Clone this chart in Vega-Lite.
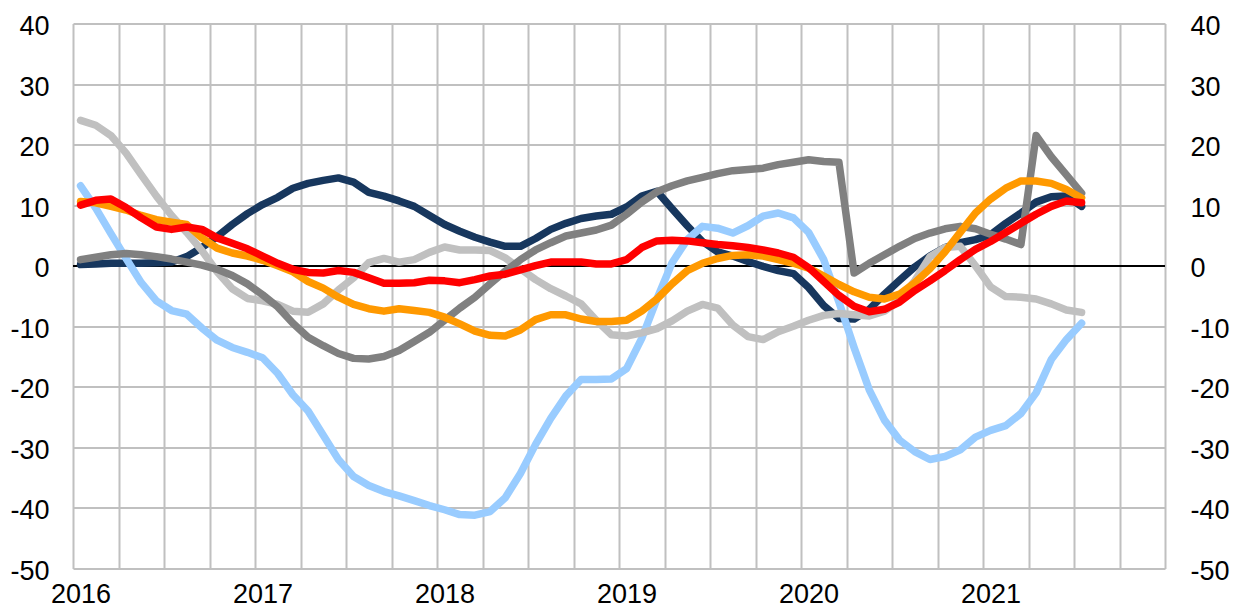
{
  "$schema": "https://vega.github.io/schema/vega-lite/v6.json",
  "width": 1092,
  "height": 545,
  "autosize": {"type": "none"},
  "padding": {"left": 73, "top": 23.5, "right": 74, "bottom": 39.5},
  "background": "white",
  "config": {
    "view": {"stroke": null},
    "font": "Liberation Sans",
    "axis": {"labelFont": "Liberation Sans", "labelFontSize": 27, "labelColor": "#000000", "title": null, "ticks": false, "tickSize": 0, "domain": false, "labelOverlap": false, "labelFlush": false, "labelBound": false}
  },
  "data": {"values": [
    {"series":"Series 1","month":0,"value":0.2},{"series":"Series 1","month":1,"value":0.3},{"series":"Series 1","month":2,"value":0.4},{"series":"Series 1","month":3,"value":0.4},{"series":"Series 1","month":4,"value":0.4},{"series":"Series 1","month":5,"value":0.5},{"series":"Series 1","month":6,"value":0.6},{"series":"Series 1","month":7,"value":1.5},{"series":"Series 1","month":8,"value":3.0},{"series":"Series 1","month":9,"value":4.8},
    {"series":"Series 1","month":10,"value":6.8},{"series":"Series 1","month":11,"value":8.6},{"series":"Series 1","month":12,"value":10.1},{"series":"Series 1","month":13,"value":11.3},{"series":"Series 1","month":14,"value":12.8},{"series":"Series 1","month":15,"value":13.6},{"series":"Series 1","month":16,"value":14.1},{"series":"Series 1","month":17,"value":14.5},{"series":"Series 1","month":18,"value":13.8},{"series":"Series 1","month":19,"value":12.1},
    {"series":"Series 1","month":20,"value":11.5},{"series":"Series 1","month":21,"value":10.7},{"series":"Series 1","month":22,"value":9.8},{"series":"Series 1","month":23,"value":8.3},{"series":"Series 1","month":24,"value":6.8},{"series":"Series 1","month":25,"value":5.7},{"series":"Series 1","month":26,"value":4.7},{"series":"Series 1","month":27,"value":3.9},{"series":"Series 1","month":28,"value":3.2},{"series":"Series 1","month":29,"value":3.2},
    {"series":"Series 1","month":30,"value":4.5},{"series":"Series 1","month":31,"value":6.0},{"series":"Series 1","month":32,"value":7.0},{"series":"Series 1","month":33,"value":7.8},{"series":"Series 1","month":34,"value":8.2},{"series":"Series 1","month":35,"value":8.5},{"series":"Series 1","month":36,"value":9.7},{"series":"Series 1","month":37,"value":11.5},{"series":"Series 1","month":38,"value":12.3},{"series":"Series 1","month":39,"value":9.4},
    {"series":"Series 1","month":40,"value":6.6},{"series":"Series 1","month":41,"value":4.0},{"series":"Series 1","month":42,"value":2.3},{"series":"Series 1","month":43,"value":1.6},{"series":"Series 1","month":44,"value":0.7},{"series":"Series 1","month":45,"value":-0.1},{"series":"Series 1","month":46,"value":-0.8},{"series":"Series 1","month":47,"value":-1.3},{"series":"Series 1","month":48,"value":-3.6},{"series":"Series 1","month":49,"value":-6.6},
    {"series":"Series 1","month":50,"value":-8.7},{"series":"Series 1","month":51,"value":-8.8},{"series":"Series 1","month":52,"value":-7.2},{"series":"Series 1","month":53,"value":-4.7},{"series":"Series 1","month":54,"value":-2.4},{"series":"Series 1","month":55,"value":-0.2},{"series":"Series 1","month":56,"value":1.6},{"series":"Series 1","month":57,"value":3.0},{"series":"Series 1","month":58,"value":3.8},{"series":"Series 1","month":59,"value":4.3},
    {"series":"Series 1","month":60,"value":5.1},{"series":"Series 1","month":61,"value":7.0},{"series":"Series 1","month":62,"value":8.7},{"series":"Series 1","month":63,"value":10.5},{"series":"Series 1","month":64,"value":11.4},{"series":"Series 1","month":65,"value":11.5},{"series":"Series 1","month":66,"value":9.8},

    {"series":"Series 2","month":0,"value":13.2},{"series":"Series 2","month":1,"value":9.5},{"series":"Series 2","month":2,"value":5.3},{"series":"Series 2","month":3,"value":1.2},{"series":"Series 2","month":4,"value":-2.8},{"series":"Series 2","month":5,"value":-5.8},{"series":"Series 2","month":6,"value":-7.4},{"series":"Series 2","month":7,"value":-8.0},{"series":"Series 2","month":8,"value":-10.3},{"series":"Series 2","month":9,"value":-12.3},
    {"series":"Series 2","month":10,"value":-13.5},{"series":"Series 2","month":11,"value":-14.3},{"series":"Series 2","month":12,"value":-15.2},{"series":"Series 2","month":13,"value":-17.8},{"series":"Series 2","month":14,"value":-21.3},{"series":"Series 2","month":15,"value":-24.0},{"series":"Series 2","month":16,"value":-28.0},{"series":"Series 2","month":17,"value":-32.0},{"series":"Series 2","month":18,"value":-34.8},{"series":"Series 2","month":19,"value":-36.3},
    {"series":"Series 2","month":20,"value":-37.3},{"series":"Series 2","month":21,"value":-38.0},{"series":"Series 2","month":22,"value":-38.8},{"series":"Series 2","month":23,"value":-39.6},{"series":"Series 2","month":24,"value":-40.3},{"series":"Series 2","month":25,"value":-41.1},{"series":"Series 2","month":26,"value":-41.2},{"series":"Series 2","month":27,"value":-40.6},{"series":"Series 2","month":28,"value":-38.3},{"series":"Series 2","month":29,"value":-34.3},
    {"series":"Series 2","month":30,"value":-29.5},{"series":"Series 2","month":31,"value":-25.2},{"series":"Series 2","month":32,"value":-21.5},{"series":"Series 2","month":33,"value":-18.8},{"series":"Series 2","month":34,"value":-18.8},{"series":"Series 2","month":35,"value":-18.7},{"series":"Series 2","month":36,"value":-17.0},{"series":"Series 2","month":37,"value":-12.0},{"series":"Series 2","month":38,"value":-5.5},{"series":"Series 2","month":39,"value":0.5},
    {"series":"Series 2","month":40,"value":4.3},{"series":"Series 2","month":41,"value":6.5},{"series":"Series 2","month":42,"value":6.2},{"series":"Series 2","month":43,"value":5.4},{"series":"Series 2","month":44,"value":6.6},{"series":"Series 2","month":45,"value":8.2},{"series":"Series 2","month":46,"value":8.7},{"series":"Series 2","month":47,"value":7.9},{"series":"Series 2","month":48,"value":5.5},{"series":"Series 2","month":49,"value":1.0},
    {"series":"Series 2","month":50,"value":-6.0},{"series":"Series 2","month":51,"value":-13.5},{"series":"Series 2","month":52,"value":-20.5},{"series":"Series 2","month":53,"value":-25.5},{"series":"Series 2","month":54,"value":-28.8},{"series":"Series 2","month":55,"value":-30.7},{"series":"Series 2","month":56,"value":-32.0},{"series":"Series 2","month":57,"value":-31.5},{"series":"Series 2","month":58,"value":-30.4},{"series":"Series 2","month":59,"value":-28.3},
    {"series":"Series 2","month":60,"value":-27.2},{"series":"Series 2","month":61,"value":-26.4},{"series":"Series 2","month":62,"value":-24.4},{"series":"Series 2","month":63,"value":-21.0},{"series":"Series 2","month":64,"value":-15.5},{"series":"Series 2","month":65,"value":-12.2},{"series":"Series 2","month":66,"value":-9.5},

    {"series":"Series 3","month":0,"value":24.0},{"series":"Series 3","month":1,"value":23.2},{"series":"Series 3","month":2,"value":21.5},{"series":"Series 3","month":3,"value":18.6},{"series":"Series 3","month":4,"value":15.0},{"series":"Series 3","month":5,"value":11.5},{"series":"Series 3","month":6,"value":8.3},{"series":"Series 3","month":7,"value":5.5},{"series":"Series 3","month":8,"value":2.5},{"series":"Series 3","month":9,"value":-1.0},
    {"series":"Series 3","month":10,"value":-3.8},{"series":"Series 3","month":11,"value":-5.4},{"series":"Series 3","month":12,"value":-5.8},{"series":"Series 3","month":13,"value":-6.4},{"series":"Series 3","month":14,"value":-7.5},{"series":"Series 3","month":15,"value":-7.7},{"series":"Series 3","month":16,"value":-6.3},{"series":"Series 3","month":17,"value":-4.0},{"series":"Series 3","month":18,"value":-2.0},{"series":"Series 3","month":19,"value":0.5},
    {"series":"Series 3","month":20,"value":1.2},{"series":"Series 3","month":21,"value":0.6},{"series":"Series 3","month":22,"value":1.0},{"series":"Series 3","month":23,"value":2.2},{"series":"Series 3","month":24,"value":3.1},{"series":"Series 3","month":25,"value":2.6},{"series":"Series 3","month":26,"value":2.6},{"series":"Series 3","month":27,"value":2.5},{"series":"Series 3","month":28,"value":1.3},{"series":"Series 3","month":29,"value":-0.5},
    {"series":"Series 3","month":30,"value":-2.3},{"series":"Series 3","month":31,"value":-3.8},{"series":"Series 3","month":32,"value":-5.0},{"series":"Series 3","month":33,"value":-6.3},{"series":"Series 3","month":34,"value":-9.0},{"series":"Series 3","month":35,"value":-11.4},{"series":"Series 3","month":36,"value":-11.6},{"series":"Series 3","month":37,"value":-11.1},{"series":"Series 3","month":38,"value":-10.4},{"series":"Series 3","month":39,"value":-9.1},
    {"series":"Series 3","month":40,"value":-7.5},{"series":"Series 3","month":41,"value":-6.4},{"series":"Series 3","month":42,"value":-7.0},{"series":"Series 3","month":43,"value":-9.8},{"series":"Series 3","month":44,"value":-11.7},{"series":"Series 3","month":45,"value":-12.2},{"series":"Series 3","month":46,"value":-10.9},{"series":"Series 3","month":47,"value":-10.0},{"series":"Series 3","month":48,"value":-9.0},{"series":"Series 3","month":49,"value":-8.2},
    {"series":"Series 3","month":50,"value":-7.9},{"series":"Series 3","month":51,"value":-8.1},{"series":"Series 3","month":52,"value":-8.3},{"series":"Series 3","month":53,"value":-7.5},{"series":"Series 3","month":54,"value":-5.7},{"series":"Series 3","month":55,"value":-2.5},{"series":"Series 3","month":56,"value":1.5},{"series":"Series 3","month":57,"value":3.0},{"series":"Series 3","month":58,"value":3.2},{"series":"Series 3","month":59,"value":0.0},
    {"series":"Series 3","month":60,"value":-3.5},{"series":"Series 3","month":61,"value":-5.1},{"series":"Series 3","month":62,"value":-5.2},{"series":"Series 3","month":63,"value":-5.5},{"series":"Series 3","month":64,"value":-6.3},{"series":"Series 3","month":65,"value":-7.3},{"series":"Series 3","month":66,"value":-7.7},

    {"series":"Series 4","month":0,"value":1.0},{"series":"Series 4","month":1,"value":1.4},{"series":"Series 4","month":2,"value":1.8},{"series":"Series 4","month":3,"value":2.0},{"series":"Series 4","month":4,"value":1.8},{"series":"Series 4","month":5,"value":1.5},{"series":"Series 4","month":6,"value":1.1},{"series":"Series 4","month":7,"value":0.6},{"series":"Series 4","month":8,"value":0.1},{"series":"Series 4","month":9,"value":-0.6},
    {"series":"Series 4","month":10,"value":-1.6},{"series":"Series 4","month":11,"value":-3.0},{"series":"Series 4","month":12,"value":-4.8},{"series":"Series 4","month":13,"value":-6.8},{"series":"Series 4","month":14,"value":-9.5},{"series":"Series 4","month":15,"value":-11.8},{"series":"Series 4","month":16,"value":-13.2},{"series":"Series 4","month":17,"value":-14.5},{"series":"Series 4","month":18,"value":-15.3},{"series":"Series 4","month":19,"value":-15.4},
    {"series":"Series 4","month":20,"value":-15.0},{"series":"Series 4","month":21,"value":-14.0},{"series":"Series 4","month":22,"value":-12.5},{"series":"Series 4","month":23,"value":-11.0},{"series":"Series 4","month":24,"value":-9.0},{"series":"Series 4","month":25,"value":-7.0},{"series":"Series 4","month":26,"value":-5.2},{"series":"Series 4","month":27,"value":-3.0},{"series":"Series 4","month":28,"value":-0.9},{"series":"Series 4","month":29,"value":1.0},
    {"series":"Series 4","month":30,"value":2.6},{"series":"Series 4","month":31,"value":3.8},{"series":"Series 4","month":32,"value":4.9},{"series":"Series 4","month":33,"value":5.4},{"series":"Series 4","month":34,"value":5.9},{"series":"Series 4","month":35,"value":6.7},{"series":"Series 4","month":36,"value":8.5},{"series":"Series 4","month":37,"value":10.5},{"series":"Series 4","month":38,"value":12.2},{"series":"Series 4","month":39,"value":13.2},
    {"series":"Series 4","month":40,"value":14.0},{"series":"Series 4","month":41,"value":14.6},{"series":"Series 4","month":42,"value":15.2},{"series":"Series 4","month":43,"value":15.7},{"series":"Series 4","month":44,"value":15.9},{"series":"Series 4","month":45,"value":16.1},{"series":"Series 4","month":46,"value":16.7},{"series":"Series 4","month":47,"value":17.1},{"series":"Series 4","month":48,"value":17.5},{"series":"Series 4","month":49,"value":17.2},
    {"series":"Series 4","month":50,"value":17.1},{"series":"Series 4","month":51,"value":-1.2},{"series":"Series 4","month":52,"value":0.4},{"series":"Series 4","month":53,"value":1.8},{"series":"Series 4","month":54,"value":3.2},{"series":"Series 4","month":55,"value":4.5},{"series":"Series 4","month":56,"value":5.4},{"series":"Series 4","month":57,"value":6.1},{"series":"Series 4","month":58,"value":6.5},{"series":"Series 4","month":59,"value":6.1},
    {"series":"Series 4","month":60,"value":5.2},{"series":"Series 4","month":61,"value":4.4},{"series":"Series 4","month":62,"value":3.5},{"series":"Series 4","month":63,"value":21.5},{"series":"Series 4","month":64,"value":18.0},{"series":"Series 4","month":65,"value":15.0},{"series":"Series 4","month":66,"value":12.0},

    {"series":"Series 5","month":0,"value":10.6},{"series":"Series 5","month":1,"value":10.4},{"series":"Series 5","month":2,"value":9.8},{"series":"Series 5","month":3,"value":9.2},{"series":"Series 5","month":4,"value":8.3},{"series":"Series 5","month":5,"value":7.6},{"series":"Series 5","month":6,"value":7.2},{"series":"Series 5","month":7,"value":6.8},{"series":"Series 5","month":8,"value":4.6},{"series":"Series 5","month":9,"value":2.9},
    {"series":"Series 5","month":10,"value":2.1},{"series":"Series 5","month":11,"value":1.6},{"series":"Series 5","month":12,"value":0.9},{"series":"Series 5","month":13,"value":0.0},{"series":"Series 5","month":14,"value":-1.0},{"series":"Series 5","month":15,"value":-2.6},{"series":"Series 5","month":16,"value":-3.7},{"series":"Series 5","month":17,"value":-5.2},{"series":"Series 5","month":18,"value":-6.4},{"series":"Series 5","month":19,"value":-7.1},
    {"series":"Series 5","month":20,"value":-7.5},{"series":"Series 5","month":21,"value":-7.1},{"series":"Series 5","month":22,"value":-7.4},{"series":"Series 5","month":23,"value":-7.7},{"series":"Series 5","month":24,"value":-8.5},{"series":"Series 5","month":25,"value":-9.6},{"series":"Series 5","month":26,"value":-10.8},{"series":"Series 5","month":27,"value":-11.5},{"series":"Series 5","month":28,"value":-11.6},{"series":"Series 5","month":29,"value":-10.6},
    {"series":"Series 5","month":30,"value":-8.9},{"series":"Series 5","month":31,"value":-8.1},{"series":"Series 5","month":32,"value":-8.1},{"series":"Series 5","month":33,"value":-8.8},{"series":"Series 5","month":34,"value":-9.2},{"series":"Series 5","month":35,"value":-9.2},{"series":"Series 5","month":36,"value":-9.0},{"series":"Series 5","month":37,"value":-7.5},{"series":"Series 5","month":38,"value":-5.5},{"series":"Series 5","month":39,"value":-3.0},
    {"series":"Series 5","month":40,"value":-0.8},{"series":"Series 5","month":41,"value":0.4},{"series":"Series 5","month":42,"value":1.2},{"series":"Series 5","month":43,"value":1.7},{"series":"Series 5","month":44,"value":1.8},{"series":"Series 5","month":45,"value":1.6},{"series":"Series 5","month":46,"value":1.0},{"series":"Series 5","month":47,"value":0.4},{"series":"Series 5","month":48,"value":-0.4},{"series":"Series 5","month":49,"value":-1.7},
    {"series":"Series 5","month":50,"value":-3.1},{"series":"Series 5","month":51,"value":-4.3},{"series":"Series 5","month":52,"value":-5.2},{"series":"Series 5","month":53,"value":-5.5},{"series":"Series 5","month":54,"value":-4.7},{"series":"Series 5","month":55,"value":-2.8},{"series":"Series 5","month":56,"value":-0.5},{"series":"Series 5","month":57,"value":2.3},{"series":"Series 5","month":58,"value":5.5},{"series":"Series 5","month":59,"value":8.7},
    {"series":"Series 5","month":60,"value":11.0},{"series":"Series 5","month":61,"value":12.8},{"series":"Series 5","month":62,"value":14.0},{"series":"Series 5","month":63,"value":14.0},{"series":"Series 5","month":64,"value":13.6},{"series":"Series 5","month":65,"value":12.6},{"series":"Series 5","month":66,"value":11.2},

    {"series":"Series 6","month":0,"value":10.0},{"series":"Series 6","month":1,"value":10.8},{"series":"Series 6","month":2,"value":11.0},{"series":"Series 6","month":3,"value":9.6},{"series":"Series 6","month":4,"value":7.9},{"series":"Series 6","month":5,"value":6.4},{"series":"Series 6","month":6,"value":6.0},{"series":"Series 6","month":7,"value":6.4},{"series":"Series 6","month":8,"value":6.0},{"series":"Series 6","month":9,"value":4.6},
    {"series":"Series 6","month":10,"value":3.7},{"series":"Series 6","month":11,"value":2.8},{"series":"Series 6","month":12,"value":1.6},{"series":"Series 6","month":13,"value":0.4},{"series":"Series 6","month":14,"value":-0.6},{"series":"Series 6","month":15,"value":-1.1},{"series":"Series 6","month":16,"value":-1.2},{"series":"Series 6","month":17,"value":-0.8},{"series":"Series 6","month":18,"value":-1.1},{"series":"Series 6","month":19,"value":-2.0},
    {"series":"Series 6","month":20,"value":-2.9},{"series":"Series 6","month":21,"value":-2.9},{"series":"Series 6","month":22,"value":-2.8},{"series":"Series 6","month":23,"value":-2.4},{"series":"Series 6","month":24,"value":-2.5},{"series":"Series 6","month":25,"value":-2.8},{"series":"Series 6","month":26,"value":-2.3},{"series":"Series 6","month":27,"value":-1.7},{"series":"Series 6","month":28,"value":-1.4},{"series":"Series 6","month":29,"value":-0.7},
    {"series":"Series 6","month":30,"value":0.0},{"series":"Series 6","month":31,"value":0.6},{"series":"Series 6","month":32,"value":0.6},{"series":"Series 6","month":33,"value":0.6},{"series":"Series 6","month":34,"value":0.3},{"series":"Series 6","month":35,"value":0.3},{"series":"Series 6","month":36,"value":1.0},{"series":"Series 6","month":37,"value":3.0},{"series":"Series 6","month":38,"value":4.1},{"series":"Series 6","month":39,"value":4.2},
    {"series":"Series 6","month":40,"value":4.1},{"series":"Series 6","month":41,"value":3.8},{"series":"Series 6","month":42,"value":3.5},{"series":"Series 6","month":43,"value":3.3},{"series":"Series 6","month":44,"value":3.0},{"series":"Series 6","month":45,"value":2.6},{"series":"Series 6","month":46,"value":2.1},{"series":"Series 6","month":47,"value":1.4},{"series":"Series 6","month":48,"value":-0.3},{"series":"Series 6","month":49,"value":-2.6},
    {"series":"Series 6","month":50,"value":-4.9},{"series":"Series 6","month":51,"value":-6.7},{"series":"Series 6","month":52,"value":-7.6},{"series":"Series 6","month":53,"value":-7.2},{"series":"Series 6","month":54,"value":-6.0},{"series":"Series 6","month":55,"value":-4.1},{"series":"Series 6","month":56,"value":-2.5},{"series":"Series 6","month":57,"value":-0.8},{"series":"Series 6","month":58,"value":1.0},{"series":"Series 6","month":59,"value":2.7},
    {"series":"Series 6","month":60,"value":4.0},{"series":"Series 6","month":61,"value":5.5},{"series":"Series 6","month":62,"value":7.0},{"series":"Series 6","month":63,"value":8.5},{"series":"Series 6","month":64,"value":9.8},{"series":"Series 6","month":65,"value":10.7},{"series":"Series 6","month":66,"value":10.4}
  ]},
  "layer": [
    {
      "mark": {"type": "rule", "color": "#000000", "strokeWidth": 1.5},
      "encoding": {
        "y": {"datum": 0, "type": "quantitative",
          "scale": {"domain": [-50, 40], "nice": false, "zero": false},
          "axis": {"orient": "right", "values": [-50, -40, -30, -20, -10, 0, 10, 20, 30, 40], "labelExpr": "'' + datum.value", "grid": false, "labelPadding": 25, "labelAlign": "left", "labelOffset": 3}}
      }
    },
    {
      "mark": {"type": "line", "strokeWidth": 7.5, "strokeCap": "round", "strokeJoin": "round"},
      "encoding": {
        "x": {"field": "month", "type": "quantitative",
          "scale": {"domain": [-0.5, 71.5], "nice": false, "zero": false},
          "axis": {
            "values": [-0.5, 0, 2.5, 5.5, 8.5, 11.5, 12, 14.5, 17.5, 20.5, 23.5, 24, 26.5, 29.5, 32.5, 35.5, 36, 38.5, 41.5, 44.5, 47.5, 48, 50.5, 53.5, 56.5, 59.5, 60, 62.5, 65.5, 68.5, 71.5],
            "labelExpr": "datum.value % 12 === 0 ? '' + (2016 + datum.value / 12) : ''",
            "grid": true, "gridColor": "#C0C0C0", "gridWidth": 2,
            "gridOpacity": {"condition": {"test": "datum.value % 12 === 0", "value": 0}, "value": 1},
            "labelPadding": 13, "labelAlign": "center"}},
        "y": {"field": "value", "type": "quantitative",
          "scale": {"domain": [-50, 40], "nice": false, "zero": false},
          "axis": {"orient": "left", "values": [-50, -40, -30, -20, -10, 0, 10, 20, 30, 40], "labelExpr": "'' + datum.value", "grid": true, "gridColor": "#C0C0C0", "gridWidth": 2, "labelPadding": 24, "labelOffset": 3}},
        "color": {"field": "series", "type": "nominal",
          "scale": {"domain": ["Series 1", "Series 2", "Series 3", "Series 4", "Series 5", "Series 6"], "range": ["#17375E", "#99CCFF", "#C0C0C0", "#808080", "#FF9900", "#FF0000"]},
          "legend": null}
      }
    }
  ],
  "resolve": {"axis": {"y": "independent"}}
}
